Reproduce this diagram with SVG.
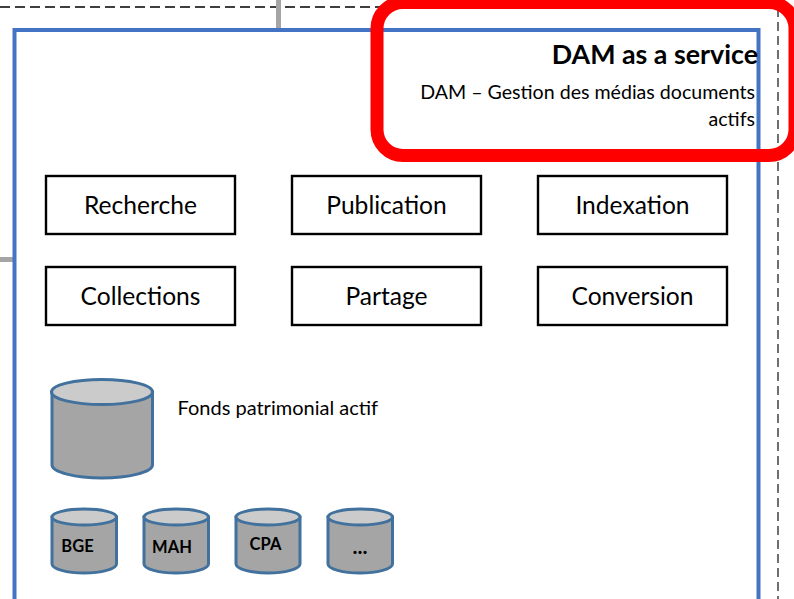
<svg xmlns="http://www.w3.org/2000/svg" width="794" height="599" viewBox="0 0 794 599">
<style>
text{font-family:"Lato","Carlito","Open Sans",sans-serif;fill:#000}
.box{fill:#fff;stroke:#000;stroke-width:2.4}
.lbl{font-size:24.600px;text-anchor:middle}
.cyl{fill:#a5a5a5;stroke:#41719c;stroke-width:3}
.top{fill:#cbcbcb;stroke:#41719c;stroke-width:3}
.db{font-size:16.500px;font-weight:700;text-anchor:middle}
.dash{stroke:#000;stroke-width:1.3;stroke-dasharray:10 5;fill:none}
.conn{stroke:#a5a5a5;stroke-width:5;fill:none}
</style>
<rect width="794" height="599" fill="#fff"/>
<g id="connectors">
<path class="dash" d="M0 7H794"/>
<path d="M778 8V599" fill="none" stroke="#333" stroke-width="1.4" stroke-dasharray="9 5"/>
<path class="conn" d="M278.500 0V29"/>
<path class="conn" d="M0 259.500H13"/>
</g>
<g id="container"><rect x="14.500" y="30" width="744" height="640" fill="none" stroke="#4472c4" stroke-width="4"/></g>
<g id="title">
<text x="758" y="64" font-size="26.800" font-weight="700" text-anchor="end">DAM as a service</text>
<text x="755" y="99" font-size="19.600" text-anchor="end">DAM – Gestion des médias documents</text>
<text x="755" y="126" font-size="19.600" text-anchor="end">actifs</text>
</g>
<g id="highlight"><rect x="377" y="2.500" width="418" height="153" rx="26" fill="none" stroke="#f00" stroke-width="13"/></g>
<g id="n-recherche"><rect class="box" x="46" y="176" width="189" height="58"/><text class="lbl" x="140.500" y="214">Recherche</text></g>
<g id="n-publication"><rect class="box" x="292" y="176" width="189" height="58"/><text class="lbl" x="386.500" y="214">Publication</text></g>
<g id="n-indexation"><rect class="box" x="538" y="176" width="189" height="58"/><text class="lbl" x="632.500" y="214">Indexation</text></g>
<g id="n-collections"><rect class="box" x="46" y="267" width="189" height="58"/><text class="lbl" x="140.500" y="305">Collections</text></g>
<g id="n-partage"><rect class="box" x="292" y="267" width="189" height="58"/><text class="lbl" x="386.500" y="305">Partage</text></g>
<g id="n-conversion"><rect class="box" x="538" y="267" width="189" height="58"/><text class="lbl" x="632.500" y="305">Conversion</text></g>
<g id="n-fonds">
<path class="cyl" d="M52 392V465C52 472 75 478 102 478S152.500 472 152.500 465V392Z"/>
<ellipse class="top" cx="102" cy="392" rx="50.500" ry="12.500"/>
<text x="177.500" y="415" font-size="20">Fonds patrimonial actif</text>
</g>
<g id="n-bge">
<path class="cyl" d="M52 517V564C52 569 67 573 84 573S116.500 569 116.500 564V517Z"/>
<ellipse class="top" cx="84.250" cy="517" rx="32.250" ry="8"/>
<text class="db" x="77.500" y="552">BGE</text>
</g>
<g id="n-mah">
<path class="cyl" d="M144 517V564C144 569 159 573 176 573S208.500 569 208.500 564V517Z"/>
<ellipse class="top" cx="176.250" cy="517" rx="32.250" ry="8"/>
<text class="db" x="172" y="553">MAH</text>
</g>
<g id="n-cpa">
<path class="cyl" d="M236 517V564C236 569 251 573 268 573S300 569 300 564V517Z"/>
<ellipse class="top" cx="268" cy="517" rx="32" ry="8"/>
<text class="db" x="265.500" y="550">CPA</text>
</g>
<g id="n-etc">
<path class="cyl" d="M328 517V564C328 569 343 573 360 573S392.500 569 392.500 564V517Z"/>
<ellipse class="top" cx="360.250" cy="517" rx="32.250" ry="8"/>
<text x="360" y="554" font-size="21" font-weight="700" text-anchor="middle">...</text>
</g>
</svg>
